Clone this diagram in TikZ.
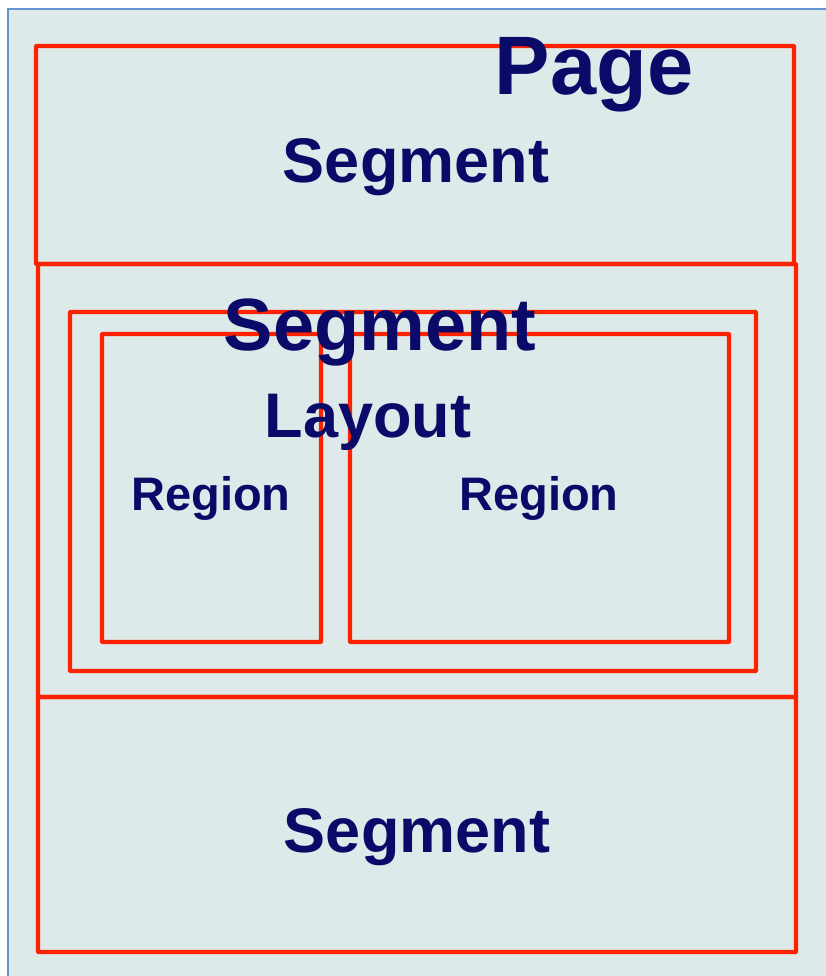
\documentclass[tikz,border=0pt]{standalone}
\usepackage{fontspec}
\setmainfont{Liberation Sans}
\usepackage{tikz}
\usetikzlibrary{positioning}
\definecolor{pagebg}{RGB}{222,234,233}
\definecolor{pageline}{RGB}{100,150,205}
\definecolor{boxred}{RGB}{255,34,0}
\definecolor{textnavy}{RGB}{10,10,105}
\newcommand{\lbl}[1]{\fontsize{#1}{#1}\selectfont\bfseries}

\begin{document}
\begin{tikzpicture}[x=1pt, y=-1pt,
    segbox/.style={draw=boxred, line width=4.2pt, inner sep=0pt, outer sep=0pt, rounded corners=0.5pt},
    lbl/.style={text=textnavy, anchor=base, inner sep=0pt}]
    \useasboundingbox (0,0) rectangle (826,976);
    \fill [pagebg] (8,9) rectangle (840,990);
    \draw [pageline, line width=1.6pt] (8,990) -- (8,9) -- (840,9);

    % segments and boxes inside
    \node [segbox, minimum width=758, minimum height=218] at (415,155) (segtop) {};
    \node [segbox, minimum width=758, minimum height=433] at (417,480.5) (segmid) {};
    \node [segbox, minimum width=758, minimum height=255] at (417,824.5) (segbot) {};
    \node [segbox, minimum width=686, minimum height=359] at (413,491.5) (layout) {};
    \node [segbox, minimum width=219, minimum height=308] at (211.5,488) (regleft) {};
    \node [segbox, minimum width=379, minimum height=308] at (539.5,488) (regright) {};

    \node [lbl, font=\lbl{83}] at (594,95) (pagetxt) {Page};
    \node [lbl, font=\lbl{63}] at (416,183) (segtoptxt) {Segment};
    \node [lbl, font=\lbl{74}] at (380,350) (segmidtxt) {Segment};
    \node [lbl, font=\lbl{63}] at (368,437) (layouttxt) {Layout};
    \node [lbl, font=\lbl{47}] at (211,510) (reglefttxt) {Region};
    \node [lbl, font=\lbl{47}] at (539,510) (regrighttxt) {Region};
    \node [lbl, font=\lbl{63}] at (417,852) (segbottxt) {Segment};
  \end{tikzpicture}
\end{document}
